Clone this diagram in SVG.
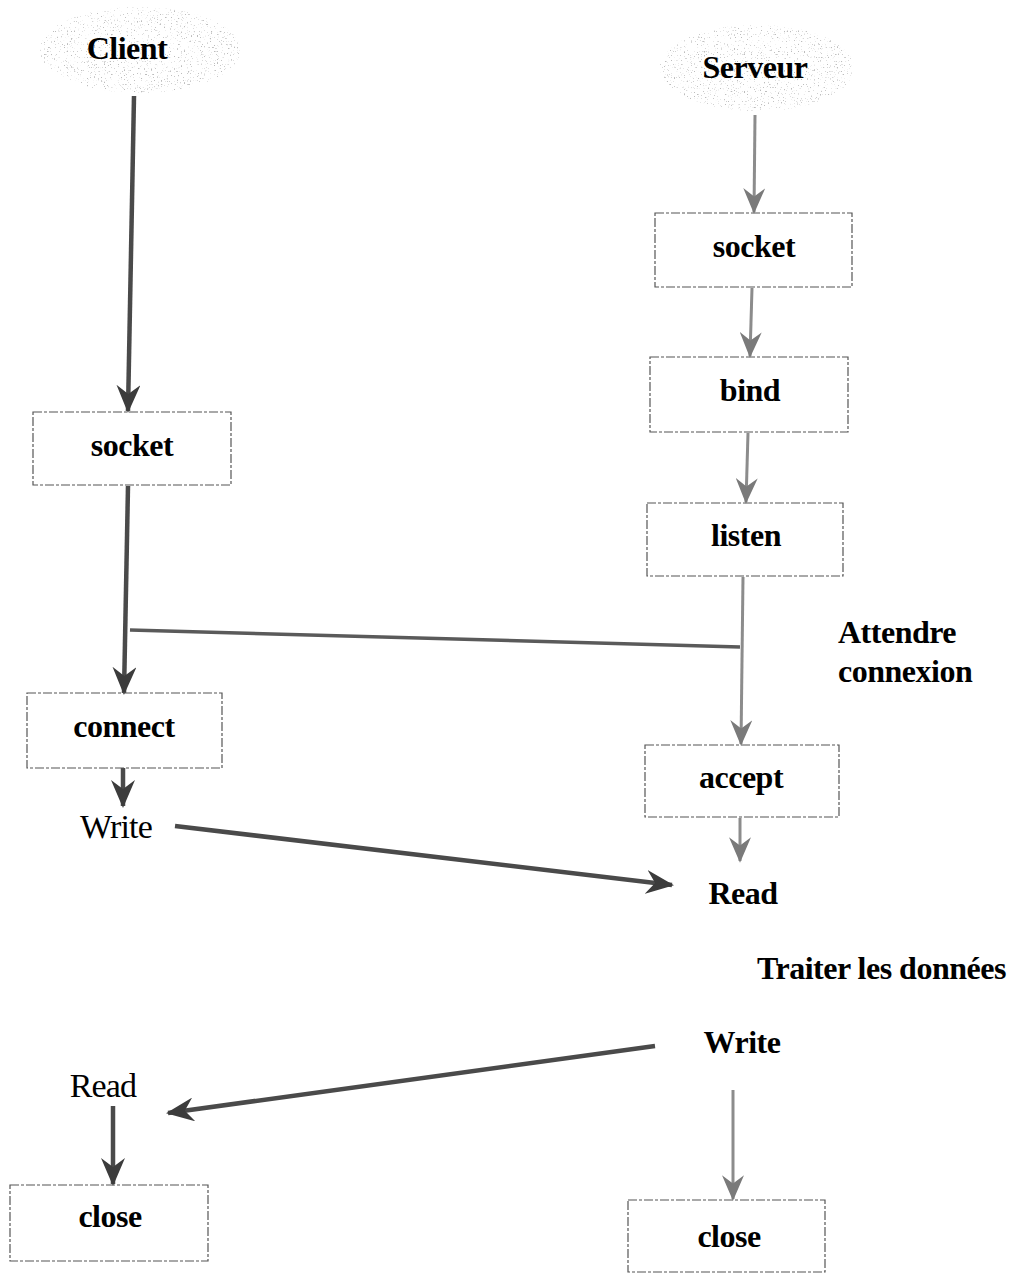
<svg xmlns="http://www.w3.org/2000/svg" width="1014" height="1276" viewBox="0 0 1014 1276">
  <style>
    .box { fill: none; stroke: #555; stroke-width: 1.2; stroke-dasharray: 9 2 3 2; }
    .lbl { font-family: "Liberation Serif", "Times New Roman", serif; font-weight: bold; font-size: 32px; letter-spacing: -0.5px; fill: #000; text-anchor: middle; }
    .plain { font-weight: normal; font-size: 34px; letter-spacing: -0.8px; }
    .left { text-anchor: start; }
    .dark { fill: none; stroke: #4a4a4a; stroke-width: 4.5; marker-end: url(#headDark); }
    .light { fill: none; stroke: #8c8c8c; stroke-width: 3; marker-end: url(#headLight); }
    .cloud { fill: #fff; filter: url(#stipple); }
  </style>
  <defs>
    <!-- speckled grey fill for the two actor clouds -->
    <filter id="stipple" x="-5%" y="-5%" width="110%" height="110%">
      <feTurbulence type="fractalNoise" baseFrequency="0.7" numOctaves="1" seed="7" result="noise"/>
      <feColorMatrix in="noise" type="matrix" values="0 0 0 0 0.5  0 0 0 0 0.5  0 0 0 0 0.5  9 0 0 0 -5.6" result="dots"/>
      <feComposite in="dots" in2="SourceGraphic" operator="in"/>
    </filter>
    <marker id="headDark" viewBox="0 0 28 24" refX="26" refY="12" markerWidth="28" markerHeight="24" markerUnits="userSpaceOnUse" orient="auto">
      <path d="M0,0 L28,12 L0,24 L9,12 z" fill="#3c3c3c"/>
    </marker>
    <marker id="headLight" viewBox="0 0 28 24" refX="26" refY="12" markerWidth="26" markerHeight="22" markerUnits="userSpaceOnUse" orient="auto">
      <path d="M0,0 L28,12 L0,24 L9,12 z" fill="#7a7a7a"/>
    </marker>
  </defs>

  <rect width="1014" height="1276" fill="#fff"/>

  <!-- connectors -->
  <g id="connectors">
    <line class="dark" x1="134" y1="96" x2="128" y2="411"/>
    <line class="dark" x1="128" y1="486" x2="124" y2="693"/>
    <path fill="none" stroke="#5a5a5a" stroke-width="3.5" d="M740,647 L130,630"/>
    <line class="dark" x1="123" y1="768" x2="123" y2="806"/>
    <line class="dark" x1="175" y1="826" x2="672" y2="885"/>
    <line class="light" x1="755" y1="115" x2="754" y2="212"/>
    <line class="light" x1="752" y1="288" x2="750" y2="356"/>
    <line class="light" x1="748" y1="433" x2="746" y2="502"/>
    <line class="light" x1="743" y1="577" x2="741" y2="744"/>
    <line class="light" x1="740" y1="818" x2="740" y2="861"/>
    <line class="dark" x1="655" y1="1046" x2="168" y2="1113"/>
    <line class="dark" x1="113" y1="1106" x2="113" y2="1184"/>
    <line class="light" x1="733" y1="1090" x2="733" y2="1199"/>
  </g>

  <!-- client side -->
  <g id="client">
    <ellipse class="cloud" cx="140" cy="50" rx="100" ry="43"/>
    <text class="lbl" x="127" y="59">Client</text>
  </g>
  <g id="client-socket">
    <rect class="box" x="33" y="412" width="198" height="73"/>
    <text class="lbl" x="132" y="456">socket</text>
  </g>
  <g id="client-connect">
    <rect class="box" x="27" y="693" width="195" height="75"/>
    <text class="lbl" x="124" y="737">connect</text>
  </g>
  <g id="client-write">
    <text class="lbl plain" x="116" y="838">Write</text>
  </g>
  <g id="client-read">
    <text class="lbl plain" x="103" y="1097">Read</text>
  </g>
  <g id="client-close">
    <rect class="box" x="10" y="1185" width="198" height="76"/>
    <text class="lbl" x="110" y="1227">close</text>
  </g>

  <!-- server side -->
  <g id="serveur">
    <ellipse class="cloud" cx="757" cy="68" rx="97" ry="43"/>
    <text class="lbl" x="755" y="78">Serveur</text>
  </g>
  <g id="server-socket">
    <rect class="box" x="655" y="213" width="197" height="74"/>
    <text class="lbl" x="754" y="257">socket</text>
  </g>
  <g id="server-bind">
    <rect class="box" x="650" y="357" width="198" height="75"/>
    <text class="lbl" x="750" y="401">bind</text>
  </g>
  <g id="server-listen">
    <rect class="box" x="647" y="503" width="196" height="73"/>
    <text class="lbl" x="746" y="546">listen</text>
  </g>
  <g id="wait-label">
    <text class="lbl left" x="838" y="643">Attendre</text>
    <text class="lbl left" x="838" y="682">connexion</text>
  </g>
  <g id="server-accept">
    <rect class="box" x="645" y="745" width="194" height="72"/>
    <text class="lbl" x="741" y="788">accept</text>
  </g>
  <g id="server-read">
    <text class="lbl" x="743" y="904">Read</text>
  </g>
  <g id="process-label">
    <text class="lbl left" x="757" y="979">Traiter les données</text>
  </g>
  <g id="server-write">
    <text class="lbl" x="742" y="1053">Write</text>
  </g>
  <g id="server-close">
    <rect class="box" x="628" y="1200" width="197" height="72"/>
    <text class="lbl" x="729" y="1247">close</text>
  </g>
</svg>
